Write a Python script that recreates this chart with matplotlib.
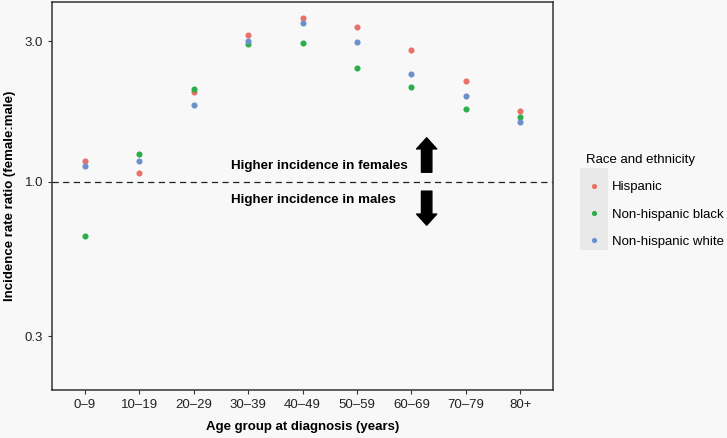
"""
Incidence rate ratio (female:male) by age group and race/ethnicity
"""
import numpy as np
import matplotlib
matplotlib.use('Agg')
import matplotlib.pyplot as plt
from matplotlib.patches import Rectangle

AGE_GROUPS = ['0\u20139', '10\u201319', '20\u201329', '30\u201339', '40\u201349',
              '50\u201359', '60\u201369', '70\u201379', '80+']

hispanic = [1.18, 1.07, 2.02, 3.14, 3.60, 3.36, 2.80, 2.19, 1.74]
nh_black = [0.655, 1.24, 2.07, 2.93, 2.96, 2.43, 2.09, 1.77, 1.66]
nh_white = [1.13, 1.18, 1.82, 3.00, 3.45, 2.99, 2.32, 1.95, 1.60]

SERIES = [
    ('Hispanic', hispanic, '#e8716b'),
    ('Non-hispanic black', nh_black, '#2cae48'),
    ('Non-hispanic white', nh_white, '#6d8fcc'),
]

Y_TICKS = [0.3, 1.0, 3.0]
Y_TICK_LABELS = ['0.3', '1.0', '3.0']

BG = '#f8f8f8'
FS = 9.5
plt.rcParams['font.family'] = ['Liberation Sans', 'DejaVu Sans']

fig = plt.figure(figsize=(7.27, 4.38), dpi=100, facecolor=BG)
ax = fig.add_axes([52 / 727, 1 - 390 / 438, 501 / 727, 388 / 438])
ax.set_facecolor(BG)

x = np.arange(len(AGE_GROUPS))

# dashed reference line at ratio = 1
ax.axhline(1.0, color='#222222', lw=0.9, linestyle=(0, (5, 3.5)), zorder=1)

for name, vals, col in SERIES:
    ax.plot(x, vals, 'o', linestyle='none', ms=4.4, color=col,
            markeredgewidth=0, label=name, zorder=3)

ax.set_yscale('log')
ax.set_ylim(0.197, 4.07)
ax.set_xlim(-0.6, len(AGE_GROUPS) - 0.4)
ax.set_yticks(Y_TICKS)
ax.set_yticklabels(Y_TICK_LABELS)
ax.yaxis.set_minor_locator(matplotlib.ticker.NullLocator())
ax.set_xticks(x)
ax.set_xticklabels(AGE_GROUPS)
ax.tick_params(axis='both', which='major', length=3, width=0.8, color='#333333',
               labelsize=FS, labelcolor='#222222', pad=3.5)

for s in ax.spines.values():
    s.set_color('#333333')
    s.set_linewidth(1.1)

ax.set_xlabel('Age group at diagnosis (years)', fontsize=FS, fontweight='bold', labelpad=7)
ax.set_ylabel('Incidence rate ratio (female:male)', fontsize=FS, fontweight='bold', labelpad=6)

# annotations
ax.text(2.69, 1.13, 'Higher incidence in females', fontsize=9.6, fontweight='bold',
        ha='left', va='center')
ax.text(2.69, 0.869, 'Higher incidence in males', fontsize=9.6, fontweight='bold',
        ha='left', va='center')
arrow_kw = dict(arrowstyle='simple,head_length=0.8,head_width=1.45,tail_width=0.75',
                mutation_scale=10, color='black', shrinkA=0, shrinkB=0)
ax.annotate('', xy=(6.28, 1.41), xytext=(6.28, 1.078), arrowprops=arrow_kw)
ax.annotate('', xy=(6.28, 0.713), xytext=(6.28, 0.93), arrowprops=arrow_kw)

# legend with grey key background (ggplot look)
ax.add_patch(Rectangle((580 / 727, 1 - 250 / 438), 28 / 727, 82 / 438,
                       transform=fig.transFigure, facecolor='#e9e9e9',
                       edgecolor='none', clip_on=False, zorder=0))
leg = ax.legend(loc='upper left', bbox_to_anchor=(574 / 727, 1 - 142 / 438),
                bbox_transform=fig.transFigure, frameon=False, fontsize=FS,
                title='Race and ethnicity', title_fontsize=FS, alignment='left',
                handlelength=1.2, handletextpad=0.75, labelspacing=1.15,
                markerscale=0.85)
leg.set_zorder(6)

fig.savefig('out.png', dpi=100, facecolor=BG)
